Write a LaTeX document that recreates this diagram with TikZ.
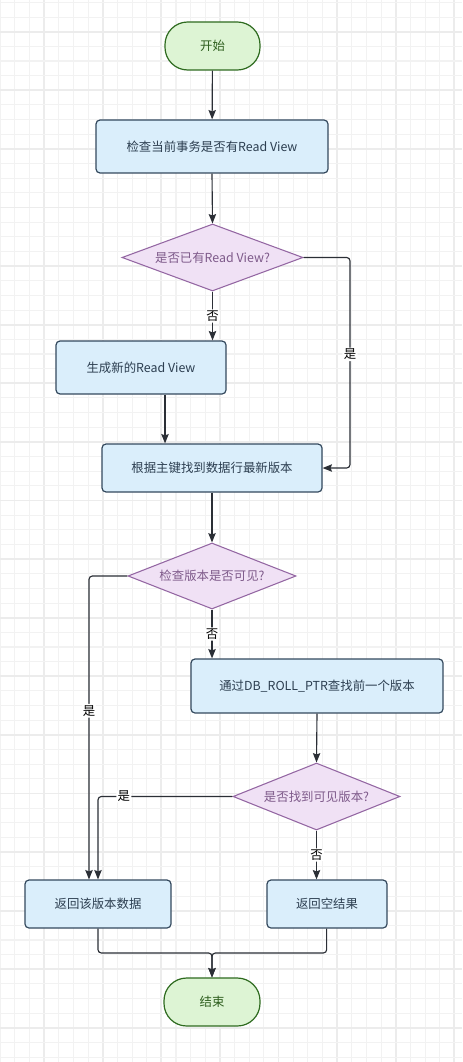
\documentclass[tikz,border=0pt]{standalone}
\usepackage{fontspec}
\setmainfont{Noto Sans CJK SC}
\usetikzlibrary{shapes.geometric,arrows.meta}
\definecolor{gridminor}{HTML}{F2F2F2}
\definecolor{gridmajor}{HTML}{ECECEC}
\definecolor{boxfill}{HTML}{DAEEFB}
\definecolor{boxline}{HTML}{34495E}
\definecolor{boxtext}{HTML}{2C3E50}
\definecolor{dfill}{HTML}{F0E1F5}
\definecolor{dline}{HTML}{9467A3}
\definecolor{dtext}{HTML}{7E5A8A}
\definecolor{tfill}{HTML}{DDF4D4}
\definecolor{tline}{HTML}{2E6B1F}
\definecolor{ttext}{HTML}{2E5E1E}
\definecolor{edge}{HTML}{2B2F36}
\tikzset{
  base/.style={font=\fontsize{9.3pt}{11pt}\selectfont, inner sep=0pt, line width=0.9pt},
  procbox/.style={base, rectangle, rounded corners=3pt, draw=boxline, fill=boxfill, text=boxtext},
  decision/.style={base, diamond, aspect=2.6, draw=dline, fill=dfill, text=dtext, line width=0.8pt},
  terminal/.style={base, rectangle, rounded corners=17pt, draw=tline, fill=tfill, text=ttext},
  conn/.style={draw=edge, line width=0.85pt, rounded corners=2.5pt, -{Stealth[length=7pt,width=5.5pt,inset=1pt]}},
  lbl/.style={fill=white, inner sep=1pt, text=black, font=\fontsize{9.3pt}{11pt}\selectfont}
}
\begin{document}
\begin{tikzpicture}[x=0.75pt,y=-0.75pt]
\useasboundingbox (0,0) rectangle (462,1062);
\fill[white] (0,0) rectangle (462,1062);
% grid
\foreach \k in {0,...,31}{
  \pgfmathsetmacro\xx{0.2+14.65*\k}
  \pgfmathtruncatemacro\m{mod(\k,4)}
  \ifnum\m=3
    \draw[gridmajor, line width=1.3pt] (\xx,0) -- (\xx,1062);
  \else
    \draw[gridminor, line width=0.8pt] (\xx,0) -- (\xx,1062);
  \fi
}
\foreach \k in {0,...,72}{
  \pgfmathsetmacro\yy{2.4+14.65*\k}
  \pgfmathtruncatemacro\m{mod(\k,4)}
  \ifnum\m=2
    \draw[gridmajor, line width=1.3pt] (0,\yy) -- (462,\yy);
  \else
    \draw[gridminor, line width=0.8pt] (0,\yy) -- (462,\yy);
  \fi
}
% nodes
\node[terminal, minimum width=71.25pt, minimum height=36pt] (start) at (212.5,46) {开始};
\node[procbox, minimum width=174pt, minimum height=39.75pt] (check) at (212,146.5) {检查当前事务是否有Read View};
\node[decision, minimum width=135.75pt, minimum height=50.25pt] (d1) at (212.5,257.5) {是否已有Read View?};
\node[procbox, minimum width=127.5pt, minimum height=39.75pt] (gen) at (141,367.5) {生成新的Read View};
\node[procbox, minimum width=165pt, minimum height=36pt] (row) at (212,468) {根据主键找到数据行最新版本};
\node[decision, minimum width=126pt, minimum height=49.5pt] (d2) at (212,576) {检查版本是否可见?};
\node[procbox, minimum width=189pt, minimum height=40.5pt] (roll) at (317,686) {通过DB\_ROLL\_PTR查找前一个版本};
\node[decision, minimum width=125.25pt, minimum height=50.25pt] (d3) at (316.5,796.5) {是否找到可见版本?};
\node[procbox, minimum width=109.5pt, minimum height=36pt] (ret1) at (98,904) {返回该版本数据};
\node[procbox, minimum width=90pt, minimum height=36pt] (ret2) at (327,904) {返回空结果};
\node[terminal, minimum width=72pt, minimum height=36pt] (end) at (212,1002) {结束};
\coordinate (c1) at (350,468);
\coordinate (m) at (212,953);
% connectors
\draw[conn] (start) -- (check);
\draw[conn] (check.south) -- (d1.north);
\draw[conn] (d1.east) -| node[lbl, pos=0.73]{是} (c1) -- (row.east);
\draw[conn] (d1.south) -- node[lbl]{否} (d1.south |- gen.north);
\draw[conn] ([xshift=18pt]gen.south) -- ([xshift=18pt]gen.south |- row.north);
\draw[conn] (row.south) -- (d2.north);
\draw[conn] (d2.south) -- node[lbl]{否} (d2.south |- roll.north);
\draw[conn] (d2.west) -| node[lbl, pos=0.722]{是} ([xshift=-6.75pt]ret1.north);
\draw[conn] (roll.south) -- (d3.north);
\draw[conn] (d3.west) -| node[lbl, pos=0.404]{是} (ret1.north);
\draw[conn] (d3.south) -- node[lbl]{否} (d3.south |- ret2.north);
\draw[conn] ([xshift=-0.25pt]ret2.south) |- (m) -- (end.north);
\draw[conn] (ret1.south) |- (m) -- (end.north);
\end{tikzpicture}
\end{document}
